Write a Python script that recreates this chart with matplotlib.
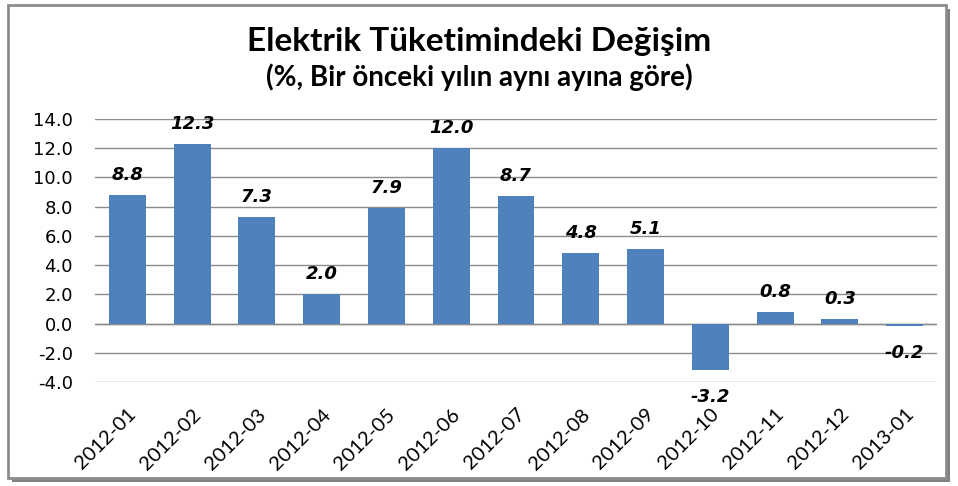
import matplotlib
matplotlib.use("Agg")
import matplotlib.pyplot as plt
from matplotlib.patches import Rectangle

months = ["2012-01", "2012-02", "2012-03", "2012-04", "2012-05", "2012-06", "2012-07",
          "2012-08", "2012-09", "2012-10", "2012-11", "2012-12", "2013-01"]
values = [8.8, 12.3, 7.3, 2.0, 7.9, 12.0, 8.7, 4.8, 5.1, -3.2, 0.8, 0.3, -0.2]
yticks = [-4, -2, 0, 2, 4, 6, 8, 10, 12, 14]

blue = "#4F81BD"

fig = plt.figure(figsize=(9.58, 4.86), dpi=100)

# frame with shadow
fig.patches.append(Rectangle((12 / 958, 1 - 482 / 486), 938 / 958, 473 / 486,
                             transform=fig.transFigure, facecolor="#7f7f7f",
                             edgecolor="none", zorder=-2))
fig.patches.append(Rectangle((8 / 958, 1 - 478 / 486), 938 / 958, 473 / 486,
                             transform=fig.transFigure, facecolor="white",
                             edgecolor="#8c8c8c", linewidth=2, zorder=-1))

ax = fig.add_axes([95 / 958, 1 - 382 / 486, 842 / 958, 263 / 486])
ax.set_zorder(5)
ax.set_facecolor("none")
x = range(len(months))
ax.bar(x, values, width=0.57, color=blue, zorder=3)

for i, v in enumerate(values):
    off = 14.5 if v >= 0 else -19
    ax.annotate(f"{v:.1f}", (i, v), xytext=(0, off), textcoords="offset points",
                ha="center", va="center", fontsize=13, fontweight="bold",
                fontstyle="italic", family="DejaVu Sans", zorder=4)

ax.set_xlim(-0.5, len(months) - 0.5)
ax.set_ylim(-4, 14)
ax.set_yticks(yticks)
ax.set_yticklabels([f"{t:.1f}" for t in yticks], fontsize=13, family="DejaVu Sans")
ax.yaxis.grid(True, color="#8c8c8c", linewidth=1)
ax.axhline(0, color="#8c8c8c", linewidth=1, zorder=2)
ax.set_axisbelow(True)
for s in ax.spines.values():
    s.set_visible(False)
ax.tick_params(length=0)
ax.tick_params(axis="y", pad=16)
ax.tick_params(axis="x", pad=17)
ax.set_xticks(list(x))
ax.set_xticklabels(months, rotation=45, ha="right", rotation_mode="anchor",
                   fontsize=14.5, family="Lato")

fig.text(0.5, 1 - 42 / 486, "Elektrik Tüketimindeki Değişim", ha="center", va="center",
         fontsize=24, fontweight="bold", family="Lato")
fig.text(0.5, 1 - 77 / 486, "(%, Bir önceki yılın aynı ayına göre)", ha="center",
         va="center", fontsize=20, fontweight="bold", family="Lato")

fig.savefig("out.png", dpi=100)
